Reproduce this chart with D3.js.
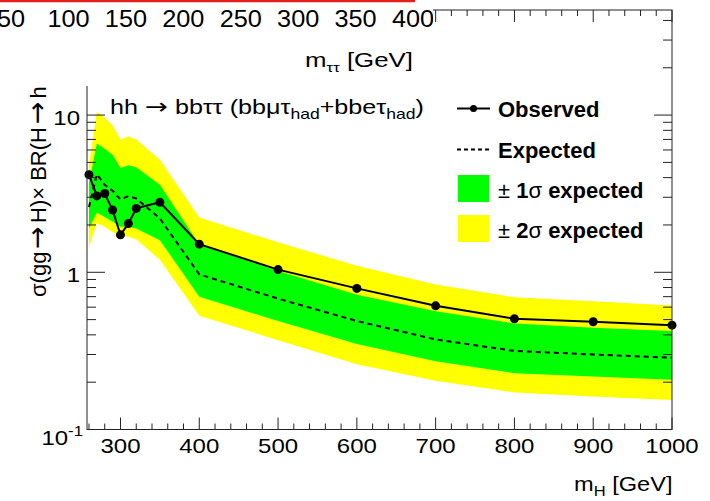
<!DOCTYPE html>
<html><head><meta charset="utf-8">
<script src="https://cdn.jsdelivr.net/npm/d3@7"></script>
<style>
body{margin:0;background:#fff;}
svg{display:block;font-family:"Liberation Sans",Arial,Helvetica,sans-serif;}
.arr{font-family:"DejaVu Sans",sans-serif;}
</style></head>
<body>
<svg id="c" width="710" height="501"></svg>
<script>
// ---- data ----
const masses   = [260,270,280,290,300,310,320,350,400,500,600,700,800,900,1000];
const observed = [4.18,3.06,3.17,2.49,1.73,2.04,2.55,2.79,1.51,1.04,0.79,0.612,0.506,0.485,0.461];
const expected = [2.6,4.2,3.6,3.3,2.9,3.05,2.95,2.2,0.97,0.68,0.49,0.374,0.316,0.30,0.286];
const minus2   = [1.45,2.05,1.95,1.8,1.7,1.68,1.62,1.2,0.53,0.37,0.26,0.204,0.172,0.162,0.154];
const minus1   = [1.9,2.4,2.25,2.1,1.95,1.95,1.9,1.6,0.70,0.49,0.35,0.272,0.228,0.217,0.207];
const plus1    = [3.7,6.6,6.1,5.6,4.6,4.8,4.65,3.6,1.5,1.02,0.72,0.566,0.473,0.444,0.423];
const plus2    = [4.8,10.5,9.6,8.6,7.0,7.3,7.0,5.2,2.23,1.55,1.1,0.835,0.694,0.655,0.615];
const xMajorTicks = [300,400,500,600,700,800,900,1000];
const yMajorTicks = [0.1,1,10];
const topTickLabels = [50,100,150,200,250,300,350,400];
const xDomain = [257.5,1000];
const yDomain = [0.1,46.6];

// ---- layout ----
const L=87, R=672, T=10, B=429.5;
const svg=d3.select("#c");
const x=d3.scaleLinear().domain(xDomain).range([L,R]);
const y=d3.scaleLog().domain(yDomain).range([B,T]);

const rows=masses.map((m,i)=>({m,o:observed[i],e:expected[i],m2:minus2[i],m1:minus1[i],p1:plus1[i],p2:plus2[i]}));

// stretch a text horizontally so that its ink spans x0..x1 at baseline yb
function fit(t,x0,x1,yb){
  const b=t.node().getBBox();
  const s=(x1-x0)/b.width;
  t.attr("transform",`translate(${x0-b.x*s},${yb}) scale(${s},1)`);
}

const g=svg.append("g");
g.append("path").datum(rows).attr("fill","#ffff00")
 .attr("d",d3.area().x(d=>x(d.m)).y0(d=>y(d.m2)).y1(d=>y(d.p2)));
g.append("path").datum(rows).attr("fill","#00ff00")
 .attr("d",d3.area().x(d=>x(d.m)).y0(d=>y(d.m1)).y1(d=>y(d.p1)));
g.append("path").datum(rows).attr("fill","none").attr("stroke","#000").attr("stroke-width",2)
 .attr("stroke-dasharray","5,4").attr("d",d3.line().x(d=>x(d.m)).y(d=>y(d.e)));
g.append("path").datum(rows).attr("fill","none").attr("stroke","#000").attr("stroke-width",2)
 .attr("d",d3.line().x(d=>x(d.m)).y(d=>y(d.o)));
g.selectAll("circle.obs").data(rows).join("circle").attr("class","obs")
 .attr("cx",d=>x(d.m)).attr("cy",d=>y(d.o)).attr("r",4.5).attr("fill","#000");

// ---- frame & ticks ----
const ax=svg.append("g").attr("stroke","#222").attr("stroke-width",1).attr("fill","none");
ax.append("rect").attr("x",L).attr("y",T).attr("width",R-L).attr("height",B-T);
const xMinor=d3.range(260,1001,20);
xMinor.forEach(v=>{
  const major=xMajorTicks.includes(v); const len=major?12:6;
  ax.append("line").attr("x1",x(v)).attr("x2",x(v)).attr("y1",B).attr("y2",B-len);
  ax.append("line").attr("x1",x(v)).attr("x2",x(v)).attr("y1",T).attr("y2",T+len);
});
const yTicks=[];
[0.1,1,10].forEach(d=>{for(let k=1;k<10;k++){const v=d*k; if(v<=yDomain[1]) yTicks.push(v);}});
yTicks.forEach(v=>{
  const major=yMajorTicks.includes(v); const len=major?18:9;
  ax.append("line").attr("x1",L).attr("x2",L+len).attr("y1",y(v)).attr("y2",y(v));
  ax.append("line").attr("x1",R).attr("x2",R-len).attr("y1",y(v)).attr("y2",y(v));
});

// tick labels
const sx=1.2;
const tl=svg.append("g").attr("font-size",20).attr("fill","#000");
xMajorTicks.forEach(v=>{
  tl.append("text").attr("transform",`translate(${x(v)},453) scale(${sx},1)`)
    .attr("text-anchor","middle").text(v);
});
yMajorTicks.forEach(v=>{
  if(v===0.1){
    const t=tl.append("text").attr("transform",`translate(83,${y(v)+15}) scale(${sx},1)`).attr("text-anchor","end");
    t.append("tspan").text("10");
    t.append("tspan").attr("font-size",14).attr("dy",-9).text("-1");
  } else {
    tl.append("text").attr("transform",`translate(80,${y(v)+10}) scale(${sx},1)`)
      .attr("text-anchor","end").text(v);
  }
});

// x axis title
const xt=svg.append("text").attr("font-size",20);
xt.append("tspan").text("m");
xt.append("tspan").attr("font-size",14).attr("dy",5).text("H");
xt.append("tspan").attr("dy",-5).text(" [GeV]");
fit(xt,574,672.5,491);

// y axis title (upper part hidden by the overlapping pad)
const yt=svg.append("text").attr("transform","translate(46,297) rotate(-90)")
  .attr("font-size",22).attr("text-anchor","start");
yt.append("tspan").text("σ(gg");
yt.append("tspan").attr("class","arr").attr("font-size",27).attr("dx",3).text("→");
yt.append("tspan").attr("dx",3).text("H)× BR(H");
yt.append("tspan").attr("class","arr").attr("font-size",27).attr("dx",3).text("→");
yt.append("tspan").attr("dx",3).text("hh) [pb]");

// annotation
const an=svg.append("text").attr("font-size",20);
an.append("tspan").text("hh ");
an.append("tspan").attr("class","arr").attr("font-size",22).text("→");
an.append("tspan").text(" bbττ (bbμτ");
an.append("tspan").attr("font-size",14).attr("dy",5).text("had");
an.append("tspan").attr("dy",-5).text("+bbeτ");
an.append("tspan").attr("font-size",14).attr("dy",5).text("had");
an.append("tspan").attr("dy",-5).text(")");
fit(an,110,424,114);

// legend
const lg=svg.append("g").attr("font-size",22);
lg.append("line").attr("x1",457).attr("x2",490).attr("y1",108.5).attr("y2",108.5).attr("stroke","#000").attr("stroke-width",2);
lg.append("circle").attr("cx",473.5).attr("cy",108.5).attr("r",3.5).attr("fill","#000");
lg.append("text").attr("x",498).attr("y",117).attr("font-weight","bold").text("Observed");
lg.append("line").attr("x1",457).attr("x2",490).attr("y1",149.5).attr("y2",149.5).attr("stroke","#000").attr("stroke-width",2).attr("stroke-dasharray","4,3");
lg.append("text").attr("x",498).attr("y",157.5).attr("font-weight","bold").text("Expected");
lg.append("rect").attr("x",458).attr("y",175).attr("width",31).attr("height",27).attr("fill","#00ff00");
const t1=lg.append("text").attr("x",498).attr("y",197.5);
t1.append("tspan").text("± ");
t1.append("tspan").attr("font-weight","bold").text("1");
t1.append("tspan").text("σ");
t1.append("tspan").attr("font-weight","bold").text(" expected");
lg.append("rect").attr("x",458).attr("y",215).attr("width",31).attr("height",27).attr("fill","#ffff00");
const t2=lg.append("text").attr("x",498).attr("y",237.5);
t2.append("tspan").text("± ");
t2.append("tspan").attr("font-weight","bold").text("2");
t2.append("tspan").text("σ");
t2.append("tspan").attr("font-weight","bold").text(" expected");

// ---- overlapping upper pad (cropped) ----
const ov=svg.append("g");
ov.append("rect").attr("x",0).attr("y",0).attr("width",433).attr("height",86).attr("fill","#fff");
ov.append("line").attr("x1",0).attr("x2",415).attr("y1",1).attr("y2",1).attr("stroke","#e0201a").attr("stroke-width",2.5);
const tx=d3.scaleLinear().domain([100,400]).range([68.5,413]);
const clip=svg.append("defs").append("clipPath").attr("id","ovclip");
clip.append("rect").attr("x",0).attr("y",0).attr("width",433).attr("height",86);
const ovt=ov.append("g").attr("clip-path","url(#ovclip)").attr("font-size",23);
topTickLabels.forEach(v=>{
  ovt.append("text").attr("transform",`translate(${tx(v)},27) scale(1.1,1)`).attr("text-anchor","middle").text(v);
});
const mt=ovt.append("text").attr("font-size",20);
mt.append("tspan").text("m");
mt.append("tspan").attr("font-size",13).attr("dy",5).text("ττ");
mt.append("tspan").attr("dy",-5).text(" [GeV]");
fit(mt,305,413,67);
</script>
</body></html>
